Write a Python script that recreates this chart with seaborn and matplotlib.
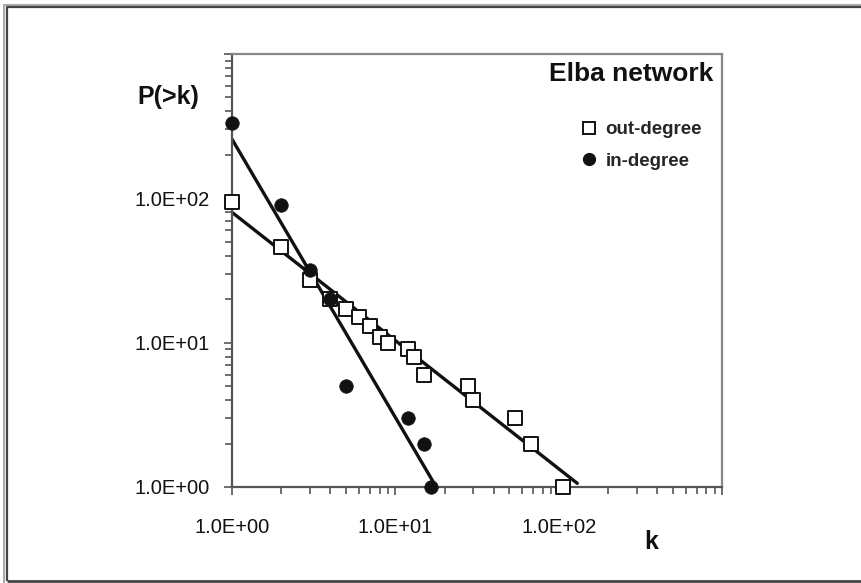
import matplotlib
matplotlib.use("Agg")
import matplotlib.pyplot as plt
import matplotlib.ticker as mticker
from matplotlib.lines import Line2D
import seaborn as sns
import pandas as pd
import numpy as np

# ---- data ----
out_k = [1, 2, 3, 4, 5, 6, 7, 8, 9, 12, 13, 15, 28, 30, 54, 68, 106]
out_p = [95, 46, 27, 20, 17, 15, 13, 11, 10, 9, 8, 6, 5, 4, 3, 2, 1]
in_k = [1, 2, 3, 4, 5, 12, 15, 16.5]
in_p = [330, 90, 32, 20, 5, 3, 2, 1]
# fitted power-law lines (end points)
fit_out_k = [1, 130]
fit_out_p = [80, 1.06]
fit_in_k = [1, 17.8]
fit_in_p = [257, 1]
tick_vals = [1, 10, 100]

sns.set_theme(style="white")
plt.rcParams['font.family'] = ['Liberation Sans', 'DejaVu Sans']

fig = plt.figure(figsize=(8.62, 5.83), dpi=100)
ax = fig.add_axes([232/862, 1-487/583, (722-232)/862, (487-54)/583])

df_out = pd.DataFrame({"k": out_k, "P": out_p})
df_in = pd.DataFrame({"k": in_k, "P": in_p})

sns.lineplot(x=fit_out_k, y=fit_out_p, ax=ax, color="#111111", lw=2.4, zorder=2)
sns.lineplot(x=fit_in_k, y=fit_in_p, ax=ax, color="#111111", lw=2.4, zorder=2)
sns.scatterplot(data=df_out, x="k", y="P", ax=ax, marker="s", s=115,
                facecolor="white", edgecolor="#111111", linewidth=1.4, zorder=3,
                clip_on=False)
sns.scatterplot(data=df_in, x="k", y="P", ax=ax, marker="o", s=95,
                color="#111111", edgecolor="#111111", linewidth=0.5, zorder=4,
                clip_on=False)

ax.set_xscale("log")
ax.set_yscale("log")
ax.set_xlim(1, 1000)
ax.set_ylim(1, 1000)
ax.set_xlabel("")
ax.set_ylabel("")

ax.xaxis.set_major_locator(mticker.FixedLocator(tick_vals + [1000]))
ax.yaxis.set_major_locator(mticker.FixedLocator(tick_vals + [1000]))
ax.xaxis.set_major_formatter(mticker.FuncFormatter(lambda v, p: f"{v:.1E}" if v < 999 else ""))
ax.yaxis.set_major_formatter(mticker.FuncFormatter(lambda v, p: f"{v:.1E}" if v < 999 else ""))
ax.xaxis.set_minor_locator(mticker.LogLocator(base=10, subs=np.arange(2, 10)))
ax.yaxis.set_minor_locator(mticker.LogLocator(base=10, subs=np.arange(2, 10)))
ax.xaxis.set_minor_formatter(mticker.NullFormatter())
ax.yaxis.set_minor_formatter(mticker.NullFormatter())

ax.tick_params(axis="x", which="both", direction="out", bottom=True, top=False,
               color="#555555", width=1.2)
ax.tick_params(axis="y", which="both", direction="out", left=True, right=False,
               color="#555555", width=1.2)
ax.tick_params(which="major", length=6)
ax.tick_params(which="minor", length=5)
ax.tick_params(axis="x", which="major", labelsize=14.5, pad=16, labelcolor="#111111")
ax.tick_params(axis="y", which="major", labelsize=14.5, pad=10, labelcolor="#111111")

for s in ["left", "bottom"]:
    ax.spines[s].set_color("#555555")
    ax.spines[s].set_linewidth(1.6)
for s in ["top", "right"]:
    ax.spines[s].set_color("#888888")
    ax.spines[s].set_linewidth(1.6)

# texts
fig.text(137/862, 1-97/583, "P(>k)", fontsize=18, fontweight="bold",
         ha="left", va="center", color="#111111")
fig.text(651/862, 1-542/583, "k", fontsize=18, fontweight="bold",
         ha="center", va="center", color="#111111")
fig.text(713/862, 1-74/583, "Elba network", fontsize=19, fontweight="bold",
         ha="right", va="center", color="#111111")

# legend
handles = [Line2D([], [], marker="s", ls="none", markersize=9, markerfacecolor="white",
                  markeredgecolor="#111111", markeredgewidth=1.4, label="out-degree"),
           Line2D([], [], marker="o", ls="none", markersize=8.5, markerfacecolor="#111111",
                  markeredgecolor="#111111", label="in-degree")]
ax.legend(handles=handles, loc="upper left",
          bbox_to_anchor=((568-232)/490, (487-112)/433),
          frameon=False, handletextpad=0.3, labelspacing=0.75,
          borderpad=0, handlelength=1.2,
          prop={"weight": "bold", "size": 13.5})

# outer frame (left, top, bottom edges)
W, H = 862, 583
def fline(xs, ys, color, lw):
    fig.add_artist(Line2D([x / W for x in xs], [1 - y / H for y in ys],
                          transform=fig.transFigure, color=color, lw=lw,
                          solid_capstyle="butt"))
fline([4.5, 4.5, 870], [600, 4.5, 4.5], "#aaaaaa", 1.5)
fline([7, 7, 870], [581, 7, 7], "#444444", 1.6)
fline([7, 870], [581, 581], "#444444", 2.0)

fig.savefig("out.png", dpi=100)
